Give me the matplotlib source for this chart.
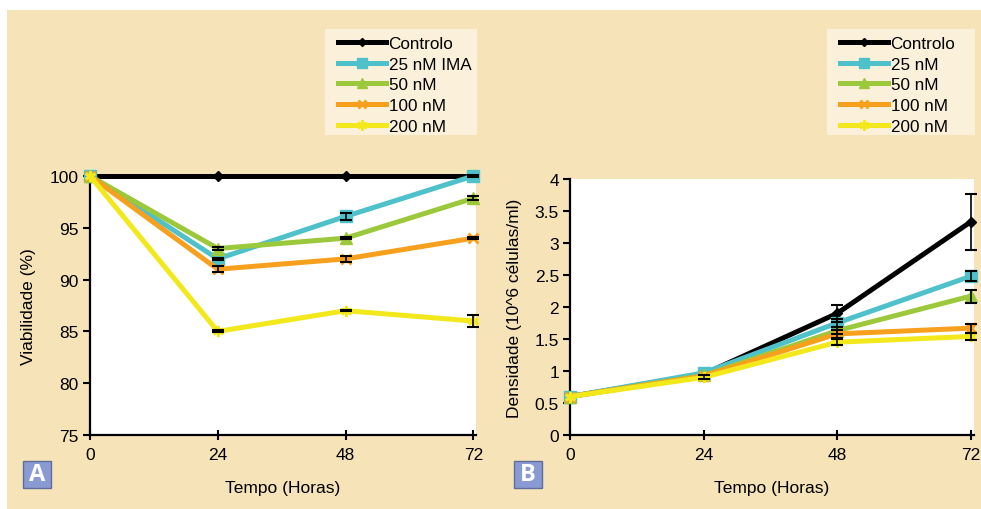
import matplotlib
matplotlib.use("Agg")
import matplotlib.pyplot as plt
from matplotlib.patches import Rectangle
from matplotlib.lines import Line2D

plt.rcParams['font.family'] = ['Liberation Sans', 'DejaVu Sans']

hours = [0, 24, 48, 72]
xticks = [0, 24, 48, 72]

# Panel A: viability (%)
labels_a = ["Controlo", "25 nM IMA", "50 nM", "100 nM", "200 nM"]
via_ctrl = [100, 100, 100, 100]
via_25 = [100, 92, 96.1, 100]
via_50 = [100, 93, 94, 97.85]
via_100 = [100, 91, 92, 94]
via_200 = [100, 85, 87, 86]
via_err_ctrl = [0, 0, 0, 0]
via_err_25 = [0, 0.1, 0.3, 0.05]
via_err_50 = [0, 0.1, 0.1, 0.2]
via_err_100 = [0, 0.3, 0.3, 0.1]
via_err_200 = [0, 0.1, 0.05, 0.55]

# Panel B: density (10^6 cells/ml)
labels_b = ["Controlo", "25 nM", "50 nM", "100 nM", "200 nM"]
den_ctrl = [0.6, 0.95, 1.9, 3.33]
den_25 = [0.6, 0.97, 1.75, 2.48]
den_50 = [0.6, 0.93, 1.63, 2.17]
den_100 = [0.6, 0.92, 1.58, 1.67]
den_200 = [0.6, 0.9, 1.45, 1.54]
den_err_ctrl = [0.0, 0.0, 0.13, 0.44]
den_err_25 = [0.0, 0.0, 0.07, 0.08]
den_err_50 = [0.0, 0.0, 0.05, 0.1]
den_err_100 = [0.0, 0.0, 0.06, 0.07]
den_err_200 = [0.0, 0.03, 0.05, 0.05]

colors = ['#000000', '#4fc1cb', '#9cc83c', '#f7a01e', '#f2e81c']
markers = ['D', 's', '^', 'x', (6, 2, 0)]
msizes = [5, 8, 8, 7, 8]

W, H = 981, 510
BG = '#f6e4b8'
fig = plt.figure(figsize=(W / 100, H / 100), dpi=100, facecolor='white')
fig.patches.append(Rectangle((7 / W, 0), (W - 7) / W, (H - 11) / H,
                             transform=fig.transFigure, facecolor=BG,
                             edgecolor='none', zorder=-10))


def px_axes(left, top, right, bottom):
    return fig.add_axes([left / W, 1 - bottom / H, (right - left) / W, (bottom - top) / H])


def draw_panel(ax, series, errs, labels, xlim, ylim, yticks, ylabel, yfmt, ylabelpad):
    ax.set_facecolor('white')
    for i, (y, e) in enumerate(zip(series, errs)):
        ax.plot(hours, y, color=colors[i], lw=3.6, marker=markers[i], ms=msizes[i],
                mew=2 if i >= 3 else 1, mec=colors[i], clip_on=False, zorder=3 + i)
        keep = [k for k in range(len(hours)) if e[k] > 0]
        if keep:
            ax.errorbar([hours[k] for k in keep], [y[k] for k in keep],
                        yerr=[e[k] for k in keep], fmt='none', ecolor='black',
                        elinewidth=1.2, capsize=4, capthick=1.5, clip_on=False, zorder=9)
    ax.set_xlim(*xlim)
    ax.set_ylim(*ylim)
    ax.set_xticks(xticks)
    ax.set_yticks(yticks)
    ax.set_yticklabels([yfmt(v) for v in yticks])
    for s in ['top', 'right']:
        ax.spines[s].set_visible(False)
    for s in ['left', 'bottom']:
        ax.spines[s].set_linewidth(1.6)
    ax.tick_params(axis='x', direction='inout', length=7, width=1.5, labelsize=12.5, pad=5)
    ax.tick_params(axis='y', direction='out', length=5, width=1.5, labelsize=12.5, pad=3)
    ax.set_xlabel('Tempo (Horas)', fontsize=12.5, labelpad=13)
    ax.set_ylabel(ylabel, fontsize=12.5, labelpad=ylabelpad)


axA = px_axes(90, 177, 476, 436)
draw_panel(axA, [via_ctrl, via_25, via_50, via_100, via_200],
           [via_err_ctrl, via_err_25, via_err_50, via_err_100, via_err_200],
           labels_a, (0, 72.5), (75, 100), [75, 80, 85, 90, 95, 100],
           'Viabilidade (%)', lambda v: f'{v:g}', 10)

axB = px_axes(570, 180, 974, 436)
draw_panel(axB, [den_ctrl, den_25, den_50, den_100, den_200],
           [den_err_ctrl, den_err_25, den_err_50, den_err_100, den_err_200],
           labels_b, (0, 72.6), (0, 4), [0, 0.5, 1, 1.5, 2, 2.5, 3, 3.5, 4],
           'Densidade (10^6 células/ml)', lambda v: f'{v:g}', 9)


def add_legend(labels, left, top, right, bottom):
    handles = [Line2D([], [], color=colors[i], lw=3.6, marker=markers[i],
                      ms=msizes[i] * 0.9, mew=2 if i >= 3 else 1)
               for i in range(len(labels))]
    fig.patches.append(Rectangle((left / W, 1 - bottom / H), (right - left) / W,
                                 (bottom - top) / H, transform=fig.transFigure,
                                 facecolor='#fbf1da', edgecolor='none', zorder=0))
    leg = fig.legend(handles, labels, loc='upper left',
                     bbox_to_anchor=((left + 8) / W, 1 - (top + 2) / H),
                     frameon=False, fontsize=12.3, handlelength=2.8,
                     handletextpad=0.15, labelspacing=0.33, borderpad=0.3,
                     borderaxespad=0)
    return leg


add_legend(labels_a, 325, 30, 477, 136)
add_legend(labels_b, 827, 30, 975, 136)


def panel_tag(letter, left, top, right, bottom):
    fig.patches.append(Rectangle((left / W, 1 - bottom / H), (right - left) / W,
                                 (bottom - top) / H, transform=fig.transFigure,
                                 facecolor='#8a9ad2', edgecolor='#5d6d9c', lw=1, zorder=5))
    fig.text((left + right) / 2 / W, 1 - (top + bottom) / 2 / H, letter,
             color='white', fontsize=17, fontweight='bold', ha='center', va='center',
             family=['Open Sans', 'DejaVu Sans'], zorder=20)


panel_tag('A', 23, 462, 51, 489)
panel_tag('B', 514, 462, 542, 489)

fig.savefig('out.png', dpi=100, facecolor=fig.get_facecolor())
